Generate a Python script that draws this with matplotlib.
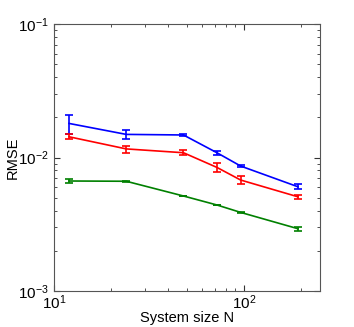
import matplotlib
matplotlib.use("Agg")
import matplotlib.pyplot as plt

plt.rcParams['font.family'] = ['Liberation Sans', 'DejaVu Sans']
plt.rcParams['mathtext.fontset'] = 'custom'
plt.rcParams['mathtext.rm'] = 'Liberation Sans'

# system sizes
sizes = [12, 24, 48, 72, 96, 192]

# RMSE means and errors
blue_rmse = [0.0180, 0.0149, 0.01475, 0.01086, 0.00863, 0.00604]
blue_err = [0.0029, 0.0012, 0.0003, 0.0004, 0.0002, 0.00027]

red_rmse = [0.0143, 0.0116, 0.01086, 0.00843, 0.00678, 0.00508]
red_err = [0.0006, 0.0007, 0.0005, 0.0007, 0.00047, 0.0002]

green_rmse = [0.00667, 0.00664, 0.00515, 0.00441, 0.00388, 0.00293]
green_err = [0.00026, 0.00004, 0.00004, 0.00003, 0.00003, 0.0001]

fig = plt.figure(figsize=(3.54, 3.27), dpi=100)
ax = fig.add_axes([0.1525, 0.110, 0.7515, 0.8166])

for y, e, c in [(blue_rmse, blue_err, 'blue'),
                (red_rmse, red_err, 'red'),
                (green_rmse, green_err, '#008000')]:
    ax.errorbar(sizes, y, yerr=e, color=c, lw=1.2, elinewidth=1.2,
                capsize=3, capthick=1.2)

ax.set_xscale('log')
ax.set_yscale('log')
ax.set_xlim(10, 251)
ax.set_ylim(1e-3, 1e-1)

ax.tick_params(which='both', direction='in', top=True, right=True,
               labelsize=11, colors='#333333', labelcolor='black')
ax.tick_params(which='major', length=4)
ax.tick_params(which='minor', length=2)
ax.tick_params(axis='x', pad=2)
for s in ax.spines.values():
    s.set_color('#555555')

ax.set_xlabel('System size N', fontsize=10.5, labelpad=-1)
ax.set_ylabel('RMSE', fontsize=10.5, labelpad=-1)

fig.savefig('out.png', dpi=100)
